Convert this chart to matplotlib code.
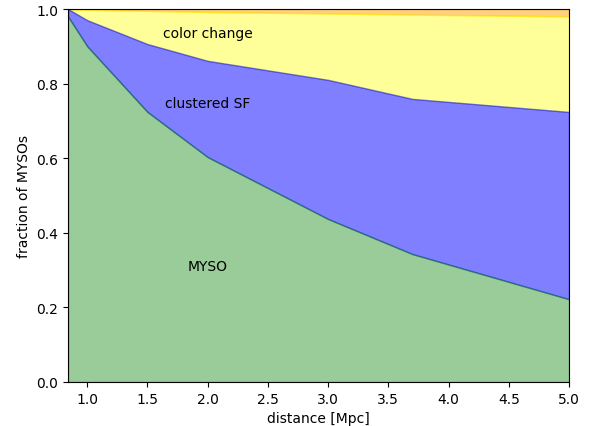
import numpy as np
import matplotlib
matplotlib.use("Agg")
import matplotlib.pyplot as plt

# distances (Mpc) and fraction of sources in each class
distance = [0.84, 1.0, 1.5, 2.0, 3.0, 3.7, 5.0]
myso = [0.98, 0.90, 0.724, 0.603, 0.437, 0.343, 0.222]
clustered_sf = [0.02, 0.07, 0.182, 0.258, 0.373, 0.416, 0.502]
color_change = [0.0, 0.028, 0.089, 0.131, 0.178, 0.226, 0.256]
other = [0.0, 0.002, 0.005, 0.008, 0.012, 0.015, 0.020]

colors = ["green", "blue", "yellow", "orange"]
alphas = [0.4, 0.5, 0.4, 0.5]

fig = plt.figure(figsize=(5.93, 4.27), dpi=100)
ax = fig.add_axes([68 / 593, 44 / 427, 501 / 593, 373 / 427])

x = np.array(distance)
layers = np.vstack([myso, clustered_sf, color_change, other])
tops = np.cumsum(layers, axis=0)
bottoms = tops - layers

# fill from the top layer down so each lower band's edge sits on top
for i in reversed(range(len(layers))):
    ax.fill_between(x, bottoms[i], tops[i], color=colors[i], alpha=alphas[i])

ax.text(2.0, 0.935, "color change", ha="center", va="center")
ax.text(2.0, 0.748, "clustered SF", ha="center", va="center")
ax.text(2.0, 0.31, "MYSO", ha="center", va="center")

ax.set_xlim(distance[0], distance[-1])
ax.set_ylim(0, 1)
ax.set_xlabel("distance [Mpc]")
ax.set_ylabel("fraction of MYSOs")

fig.savefig("out.png", dpi=100)
